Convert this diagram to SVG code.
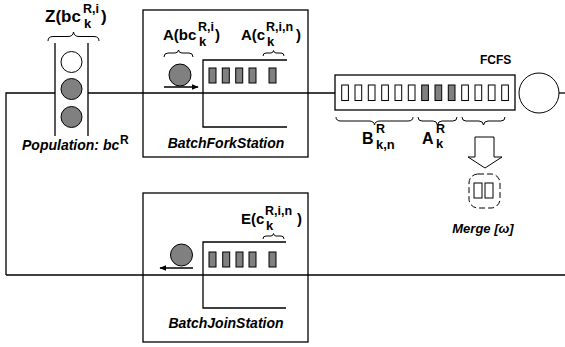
<svg xmlns="http://www.w3.org/2000/svg" width="565" height="347" viewBox="0 0 565 347">
<defs>
<style>
.ln{fill:none;stroke:#000;stroke-width:1.3}
.br{fill:none;stroke:#000;stroke-width:1}
.g{fill:#808080;stroke:#000;stroke-width:1}
.w{fill:#fff;stroke:#000;stroke-width:1}
.t{font-family:"Liberation Sans",Arial,sans-serif;font-weight:bold;fill:#000}
.it{font-family:"Liberation Sans",Arial,sans-serif;font-weight:bold;font-style:italic;fill:#000}
.m{font-size:15px}
.sp{font-size:12.5px}
.sb{font-size:13px}
</style>
<marker id="ah" viewBox="0 0 10 10" refX="9" refY="5" markerWidth="7" markerHeight="7" orient="auto" markerUnits="userSpaceOnUse"><path d="M0,1 L10,5 L0,9 Z" fill="#000"/></marker>
</defs>
<rect width="565" height="347" fill="#fff"/>
<g id="connectors">
<path class="ln" d="M6,275 L6,93 L55,93"/>
<path class="ln" d="M88,93 L335,93"/>
<path class="ln" d="M559,93 L565,93"/>
<path class="ln" d="M6,275 L565,275"/>
</g>
<g id="population">
<path class="ln" d="M55,43 V136 M88,43 V136"/>
<circle class="w" cx="71.5" cy="62" r="10.5"/>
<circle class="g" cx="71.5" cy="89" r="10.5"/>
<circle class="g" cx="71.5" cy="117" r="10.5"/>
<path class="br" d="M48,41 Q48,36.5 53,36.5 L68,36.5 Q73,36.5 73.5,32 Q74,36.5 79,36.5 L94,36.5 Q99,36.5 99,41"/>
<text class="t" x="45" y="22" font-size="17">Z(bc</text>
<text class="t sp" x="83" y="13">R,i</text>
<text class="t sb" x="84" y="28">k</text>
<text class="t" x="101" y="22" font-size="17">)</text>
<text class="it" x="22" y="150" font-size="14">Population: bc</text>
<text class="t" x="120" y="144" font-size="12">R</text>
</g>
<g id="fork">
<rect class="ln" x="143" y="10" width="165" height="147"/>
<path class="ln" d="M287,60 H203 V127 H287"/>
<rect class="g" x="209" y="68" width="7" height="15"/>
<rect class="g" x="222.3" y="68" width="7" height="15"/>
<rect class="g" x="235.7" y="68" width="7" height="15"/>
<rect class="g" x="249" y="68" width="7" height="15"/>
<rect class="g" x="269" y="68" width="7" height="15"/>
<circle class="g" cx="180" cy="75" r="11"/>
<path class="ln" d="M164,87 H198" marker-end="url(#ah)"/>
<path class="br" d="M164,57 Q164,53 168,53 L175,53 Q178,53 178.5,50 Q179,53 182,53 L189,53 Q193,53 193,57"/>
<path class="br" d="M263,56 Q263,53 266,53 L271,53 Q273,53 273.5,50.5 Q274,53 276,53 L281,53 Q284,53 284,56"/>
<text class="t m" x="163" y="40">A(bc</text>
<text class="t sp" x="198" y="31">R,i</text>
<text class="t sb" x="199" y="46">k</text>
<text class="t m" x="215" y="40">)</text>
<text class="t m" x="241" y="40">A(c</text>
<text class="t sp" x="266" y="31">R,i,n</text>
<text class="t sb" x="267" y="46">k</text>
<text class="t m" x="296" y="40">)</text>
<text class="it" x="226" y="148" font-size="14" text-anchor="middle">BatchForkStation</text>
</g>
<g id="fcfs">
<rect class="ln" x="335" y="75" width="180" height="35"/>
<rect class="w" x="341.7" y="85" width="6.7" height="15.5"/>
<rect class="w" x="355" y="85" width="6.7" height="15.5"/>
<rect class="w" x="368.3" y="85" width="6.7" height="15.5"/>
<rect class="w" x="381.7" y="85" width="6.7" height="15.5"/>
<rect class="w" x="395" y="85" width="6.7" height="15.5"/>
<rect class="w" x="408.3" y="85" width="6.7" height="15.5"/>
<rect class="g" x="421.7" y="85" width="6.7" height="15.5"/>
<rect class="g" x="435" y="85" width="6.7" height="15.5"/>
<rect class="g" x="448.3" y="85" width="6.7" height="15.5"/>
<rect class="w" x="461.7" y="85" width="6.7" height="15.5"/>
<rect class="w" x="475" y="85" width="6.7" height="15.5"/>
<rect class="w" x="488.3" y="85" width="6.7" height="15.5"/>
<rect class="w" x="501.7" y="85" width="6.7" height="15.5"/>
<circle class="w" cx="539" cy="93" r="20"/>
<text class="t" x="480" y="64" font-size="12">FCFS</text>
<path class="br" d="M336,117 Q336,121 341,121 L369,121 Q374,121 374.5,125 Q375,121 380,121 L408,121 Q413,121 413,117"/>
<path class="br" d="M418,117 Q418,121 422,121 L433,121 Q437,121 437.5,125 Q438,121 442,121 L453,121 Q457,121 457,117"/>
<path class="br" d="M462,117 Q462,121 466,121 L479,121 Q483,121 483.5,125 Q484,121 488,121 L501,121 Q505,121 505,117"/>
<text class="t" x="362" y="144" font-size="16">B</text>
<text class="t sp" x="376" y="133">R</text>
<text class="t sb" x="376" y="149">k,n</text>
<text class="t" x="422" y="144" font-size="16">A</text>
<text class="t sp" x="436" y="133">R</text>
<text class="t sb" x="436" y="148">k</text>
</g>
<g id="merge">
<polygon class="w" points="475,137 494,137 494,157 502,157 485,168 468,157 475,157"/>
<rect x="469" y="174" width="31" height="34" rx="9" fill="none" stroke="#000" stroke-width="1" stroke-dasharray="6,3"/>
<rect class="w" x="474" y="183" width="8" height="15"/>
<rect class="w" x="485" y="183" width="8" height="15"/>
<text class="it" x="483" y="233" font-size="13" text-anchor="middle">Merge [ω]</text>
</g>
<g id="join">
<rect class="ln" x="143" y="193" width="165" height="149"/>
<path class="ln" d="M286,242 H203 V308 H286"/>
<rect class="g" x="209" y="252" width="7" height="15"/>
<rect class="g" x="222.7" y="252" width="7" height="15"/>
<rect class="g" x="236" y="252" width="7" height="15"/>
<rect class="g" x="249" y="252" width="7" height="15"/>
<rect class="g" x="269" y="252" width="7" height="15"/>
<circle class="g" cx="181.5" cy="255" r="11"/>
<path class="ln" d="M193,268 H160" marker-end="url(#ah)"/>
<path class="br" d="M263,239 Q263,236 266,236 L271,236 Q273,236 273.5,233.5 Q274,236 276,236 L281,236 Q284,236 284,239"/>
<text class="t m" x="241" y="224">E(c</text>
<text class="t sp" x="265" y="215">R,i,n</text>
<text class="t sb" x="266" y="230">k</text>
<text class="t m" x="297" y="224">)</text>
<text class="it" x="226" y="328" font-size="14" text-anchor="middle">BatchJoinStation</text>
</g>
</svg>
